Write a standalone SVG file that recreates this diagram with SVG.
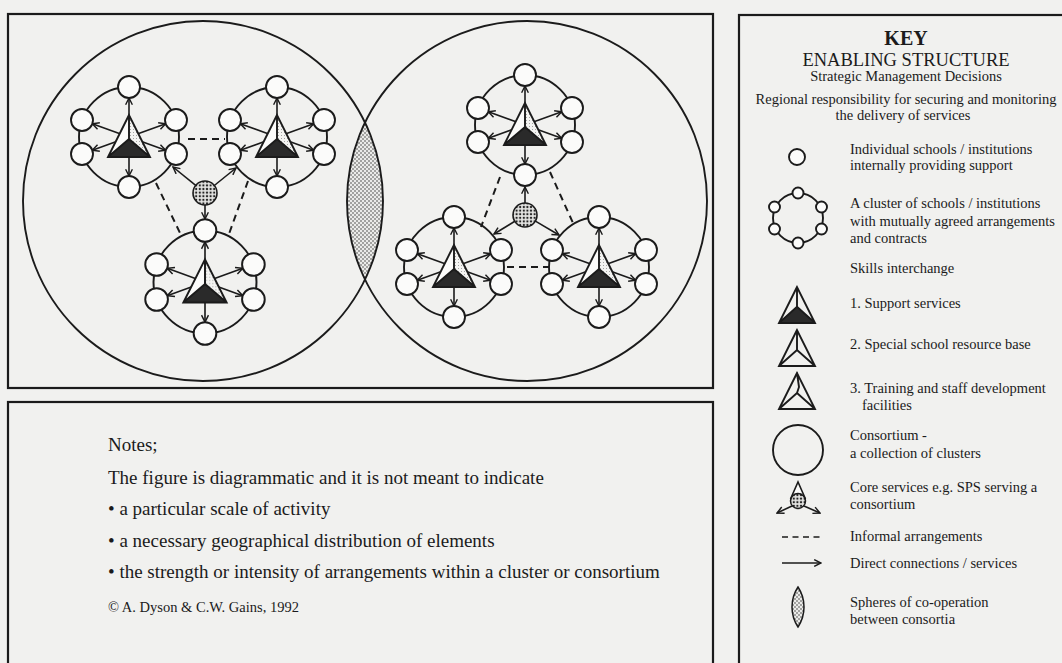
<svg xmlns="http://www.w3.org/2000/svg" width="1062" height="663" viewBox="0 0 1062 663">
<defs>
<style>
.ln{stroke:#1b1b1b;stroke-width:1.9;fill:none}
.dash{stroke:#1b1b1b;stroke-width:2;fill:none;stroke-dasharray:7 5}
.sc{fill:#fbfbfa;stroke:#1b1b1b;stroke-width:1.9}
.arr{stroke:#1b1b1b;stroke-width:1.6;fill:none;marker-end:url(#ah)}
.frame{fill:none;stroke:#1b1b1b;stroke-width:2.2}
.big{fill:none;stroke:#1b1b1b;stroke-width:1.9}
text{font-family:"Liberation Serif","Times New Roman",serif;fill:#1b1b1b}
.k{font-size:14.5px}
.kc{font-size:14.5px;text-anchor:middle}
.n{font-size:19px}
</style>
<marker id="ah" viewBox="0 0 10 10" refX="9" refY="5" markerWidth="8.5" markerHeight="8.5" markerUnits="userSpaceOnUse" orient="auto">
<path d="M1,1 L9,5 L1,9" fill="none" stroke="#1b1b1b" stroke-width="1.7"/>
</marker>
<pattern id="dots" width="3.6" height="3.6" patternUnits="userSpaceOnUse">
<rect width="3.6" height="3.6" fill="#e4e4e2"/><circle cx="1.8" cy="1.8" r="1.15" fill="#222"/>
</pattern>
<pattern id="lensdots" width="4" height="4" patternUnits="userSpaceOnUse">
<rect width="4" height="4" fill="#ebebe9"/><circle cx="1" cy="1" r="0.8" fill="#444"/><circle cx="3" cy="3" r="0.8" fill="#444"/>
</pattern>
<pattern id="stip" width="3" height="3" patternUnits="userSpaceOnUse">
<rect width="3" height="3" fill="#f4f4f2"/><circle cx="1.5" cy="1.5" r="0.5" fill="#888"/>
</pattern>
<g id="pyrC">
<path d="M0,-22 L-21,20 L21,20 Z" fill="#fbfbfa"/>
<path d="M0,-22 L0,2 L21,20 Z" fill="url(#stip)"/>
<path d="M0,2 L-21,20 L21,20 Z" fill="#2a2a2a"/>
<path d="M0,-22 L-21,20 L21,20 Z M0,-22 L0,2 M-21,20 L0,2 L21,20" class="ln" stroke-linejoin="miter"/>
</g>
<g id="cluster">
<circle r="50" class="ln"/>
<line x1="0" y1="0" x2="0" y2="-39" class="arr"/>
<line x1="0" y1="0" x2="0" y2="39" class="arr"/>
<line x1="0" y1="0" x2="36.7" y2="-13.3" class="arr"/>
<line x1="0" y1="0" x2="36.7" y2="13.3" class="arr"/>
<line x1="0" y1="0" x2="-36.7" y2="-13.3" class="arr"/>
<line x1="0" y1="0" x2="-36.7" y2="13.3" class="arr"/>
<use href="#pyrC"/>
<circle cx="0" cy="-50" r="11" class="sc"/>
<circle cx="0" cy="50" r="11" class="sc"/>
<circle cx="47" cy="-17" r="11" class="sc"/>
<circle cx="47" cy="17" r="11" class="sc"/>
<circle cx="-47" cy="-17" r="11" class="sc"/>
<circle cx="-47" cy="17" r="11" class="sc"/>
</g>
</defs>

<rect width="1062" height="663" fill="#f1f1ef"/>

<rect class="frame" x="8" y="14" width="705" height="374"/>
<rect class="frame" x="8" y="402" width="705" height="275"/>
<rect class="frame" x="739" y="15" width="335" height="665"/>

<g id="lens"><path d="M365,122.5 A180,180 0 0 1 365,279.5 A180,180 0 0 1 365,122.5 Z" fill="url(#lensdots)"/></g>
<g id="consortium-left"><circle cx="203" cy="201" r="180" class="big"/></g>
<g id="consortium-right"><circle cx="527" cy="201" r="180" class="big"/></g>

<g id="connectors">
<line x1="188" y1="139" x2="225" y2="139" class="dash"/>
<line x1="156" y1="183" x2="181" y2="235" class="dash"/>
<line x1="248" y1="181" x2="229" y2="234" class="dash"/>
<line x1="500" y1="177" x2="481" y2="227" class="dash"/>
<line x1="550" y1="172" x2="573" y2="223" class="dash"/>
<line x1="507" y1="267" x2="549" y2="267" class="dash"/>
<line x1="195.7" y1="185.4" x2="173" y2="167" class="arr"/>
<line x1="214.3" y1="185.5" x2="236" y2="168" class="arr"/>
<line x1="205" y1="205" x2="205" y2="219" class="arr"/>
<line x1="525" y1="203" x2="525" y2="187" class="arr"/>
<line x1="514.8" y1="221.3" x2="494" y2="234" class="arr"/>
<line x1="535.4" y1="221.1" x2="559" y2="235" class="arr"/>
</g>

<g id="cluster-a"><use href="#cluster" transform="translate(129,137)"/></g>
<g id="cluster-b"><use href="#cluster" transform="translate(277,137)"/></g>
<g id="cluster-c"><use href="#cluster" transform="translate(205,282) scale(1.03)"/></g>
<g id="cluster-d"><use href="#cluster" transform="translate(525,125)"/></g>
<g id="cluster-e"><use href="#cluster" transform="translate(454,267)"/></g>
<g id="cluster-f"><use href="#cluster" transform="translate(599,267)"/></g>

<g id="core-left"><circle cx="205" cy="193" r="12" fill="url(#dots)" stroke="#1b1b1b" stroke-width="1.6"/></g>
<g id="core-right"><circle cx="525" cy="215" r="12" fill="url(#dots)" stroke="#1b1b1b" stroke-width="1.6"/></g>

<g id="notes">
<text class="n" x="108" y="451">Notes;</text>
<text class="n" x="108" y="484">The figure is diagrammatic and it is not meant to indicate</text>
<text class="n" x="108" y="515">• a particular scale of activity</text>
<text class="n" x="108" y="547">• a necessary geographical distribution of elements</text>
<text class="n" x="108" y="578">• the strength or intensity of arrangements within a cluster or consortium</text>
<text x="108" y="612" style="font-size:14.5px">© A. Dyson &amp; C.W. Gains, 1992</text>
</g>

<g id="key">
<text x="906" y="45" style="font-size:20px;font-weight:bold;text-anchor:middle">KEY</text>
<text x="906" y="66" style="font-size:18.5px;text-anchor:middle">ENABLING STRUCTURE</text>
<text class="kc" x="906" y="81">Strategic Management Decisions</text>
<text class="kc" x="906" y="104">Regional responsibility for securing and monitoring</text>
<text class="kc" x="903" y="120">the delivery of services</text>

<g id="key-school">
<circle cx="797" cy="157" r="8" class="sc"/>
<text class="k" x="850" y="154">Individual schools / institutions</text>
<text class="k" x="850" y="170">internally providing support</text>
</g>

<g id="key-cluster">
<circle cx="798" cy="218" r="25" class="ln"/>
<circle cx="798" cy="193" r="5.5" class="sc"/>
<circle cx="798" cy="243" r="5.5" class="sc"/>
<circle cx="821.5" cy="207" r="5.5" class="sc"/>
<circle cx="821.5" cy="229" r="5.5" class="sc"/>
<circle cx="774.5" cy="207" r="5.5" class="sc"/>
<circle cx="774.5" cy="229" r="5.5" class="sc"/>
<text class="k" x="850" y="208">A cluster of schools / institutions</text>
<text class="k" x="850" y="226">with mutually agreed arrangements</text>
<text class="k" x="850" y="243">and contracts</text>
</g>

<text class="k" x="850" y="273">Skills interchange</text>

<g id="key-support">
<path d="M797,306.7 L779,323 L815,323 Z" fill="#2a2a2a"/>
<path d="M797,287 L779,323 L815,323 Z M797,287 L797,306.7 M779,323 L797,306.7 L815,323" class="ln"/>
<text class="k" x="850" y="308">1. Support services</text>
</g>
<g id="key-special">
<path d="M797,330 L779,366 L815,366 Z M797,330 L797,350 M779,366 L797,350 L815,366" class="ln"/>
<text class="k" x="850" y="349">2. Special school resource base</text>
</g>
<g id="key-training">
<path d="M797,373 L779,409 L815,409 Z M797,373 L799,387 L797,393 M779,409 L797,393 L815,409" class="ln"/>
<text class="k" x="850" y="393">3. Training and staff development</text>
<text class="k" x="862" y="410">facilities</text>
</g>

<g id="key-consortium">
<circle cx="798" cy="450" r="25" class="ln"/>
<text class="k" x="850" y="440">Consortium -</text>
<text class="k" x="850" y="458">a collection of clusters</text>
</g>

<g id="key-core">
<path d="M790.5,499 L798,482 L805.5,499" fill="#fbfbfa" stroke="#1b1b1b" stroke-width="1.6"/>
<line x1="792" y1="506" x2="777" y2="513" class="arr"/>
<line x1="804" y1="506" x2="820" y2="513" class="arr"/>
<circle cx="798" cy="501" r="7.5" fill="url(#dots)" stroke="#1b1b1b" stroke-width="1.5"/>
<text class="k" x="850" y="492">Core services e.g. SPS serving a</text>
<text class="k" x="850" y="509">consortium</text>
</g>

<g id="key-informal">
<line x1="782" y1="537" x2="821" y2="537" stroke="#1b1b1b" stroke-width="1.6" stroke-dasharray="6 4.5"/>
<text class="k" x="850" y="541">Informal arrangements</text>
</g>
<g id="key-direct">
<line x1="782" y1="563" x2="821" y2="563" class="arr"/>
<text class="k" x="850" y="568">Direct connections / services</text>
</g>
<g id="key-spheres">
<path d="M798,587 A36.3,36.3 0 0 1 798,627 A36.3,36.3 0 0 1 798,587 Z" fill="url(#lensdots)" stroke="#1b1b1b" stroke-width="1.5"/>
<text class="k" x="850" y="607">Spheres of co-operation</text>
<text class="k" x="850" y="624">between consortia</text>
</g>
</g>
</svg>
